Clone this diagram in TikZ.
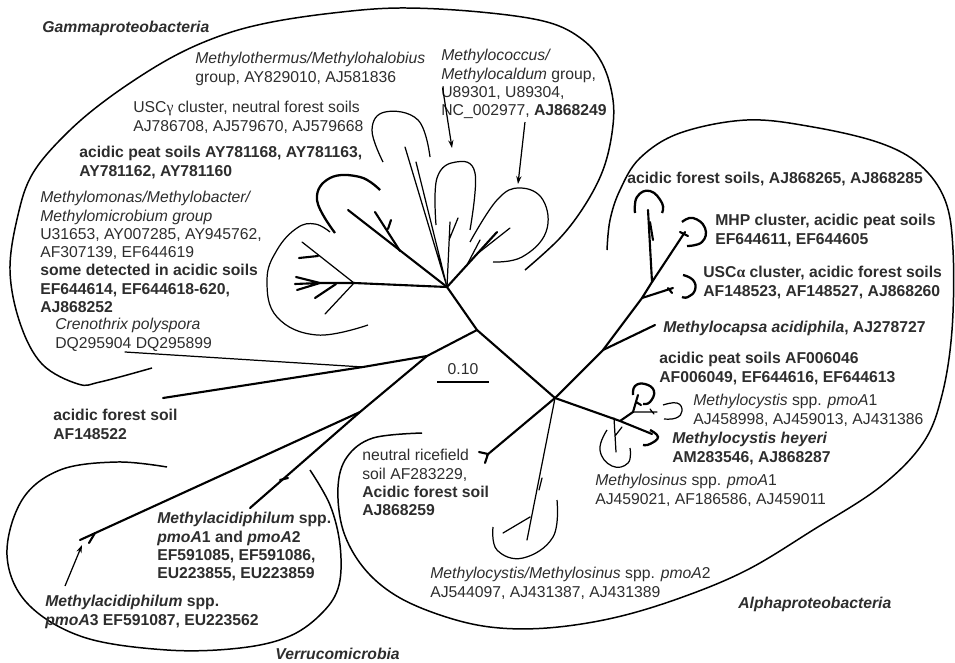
\documentclass[tikz,border=0pt]{standalone}
\usepackage{fontspec}
\setmainfont{Liberation Sans}
\newfontfamily\greekfont{Liberation Serif}
\usetikzlibrary{arrows.meta,calc}
\definecolor{lblgray}{RGB}{45,45,45}

\begin{document}
\begin{tikzpicture}[x=0.02cm,y=-0.02cm,
  branch/.style={line width=1.2pt,line cap=round},
  twig/.style={line width=0.7pt,line cap=round},
  hull/.style={line width=0.85pt},
  loopthin/.style={line width=0.7pt},
  loopbold/.style={line width=1.3pt},
  lbl/.style={anchor=north west,inner sep=0pt,align=left,text=lblgray,font=\fontsize{8.95}{10.4}\selectfont},
  pointer/.style={line width=0.7pt,-{Stealth[length=4.5pt,width=3pt]}}]
\useasboundingbox (0,0) rectangle (955,662);

% inner nodes of the tree
\coordinate (G) at (447,287);
\coordinate (GL) at (354,283);
\coordinate (K1) at (477,330);
\coordinate (K2) at (427,356);
\coordinate (K3) at (363,367);
\coordinate (V) at (360,412);
\coordinate (A) at (555,398);
\coordinate (M1) at (603,350);
\coordinate (M2) at (642,298);
\coordinate (M3) at (652,282);
\coordinate (N0) at (620,421);
\coordinate (N1) at (633,412);

% trunk
\draw[branch] (G) -- (K1) -- (A);
\draw[branch] (K1) -- (K2) -- (K3) -- (163,398);
\draw[twig] (K3) -- (125,352);
\draw[branch] (K2) -- (V) -- (80,540);
\draw[branch] (V) -- (250,508);
\draw[branch] (95,533) -- (89,543) (280,480) -- (288,478);

% gamma subtree
\draw[branch] (G) -- (GL);
\draw[twig] (GL) -- (302,242);
\draw[branch] (318,256) -- (299,258);
\draw[branch] (GL) -- (320,283) -- (296,277) (320,283) -- (295,284) (320,283) -- (297,290);
\draw[branch] (336,284) -- (315,298);
\draw[twig] (GL) -- (325,314);
\draw[branch] (G) -- (348,210);
\draw[branch] (400,251) -- (375,212) (388,229) -- (391,220);
\draw[twig] (G) -- (405,147) (G) -- (416,162);
\draw[twig] (G) -- (450,222) (449,240) -- (458,218);
\draw[branch] (G) -- (497,232);
\draw[twig] (477,254) -- (510,228) (468,263) -- (480,240);

% alpha subtree
\draw[branch] (A) -- (M1) -- (M2) -- (M3) -- (648,210);
\draw[branch] (650,222) -- (653,240);
\draw[branch] (M1) -- (655,325);
\draw[branch] (M2) -- (673,288) (668,288) -- (672,293);
\draw[branch] (M3) -- (685,232) (680,232) -- (688,236);
\draw[branch] (A) -- (N0) -- (652,434);
\draw[branch] (N0) -- (N1) -- (638,395) (636,402) -- (641,405);
\draw[twig] (N1) -- (657,412) (650,409) -- (654,414);
\draw[twig] (614,418) -- (616,452) (615,436) -- (622,427);
\draw[twig] (A) -- (527,540) (530,517) -- (503,533) (542,478) -- (539,490);
\draw[branch] (A) -- (487,455) (479,452) -- (488,454) -- (485,463);

% clusters
\draw[loopthin] plot[smooth,tension=0.7] coordinates {(383,162) (372,130) (385,112) (418,120) (430,157)};
\draw[loopthin] plot[smooth,tension=0.7] coordinates {(436,225) (437,178) (456,162) (475,173) (470,230)};
\draw[loopthin] plot[smooth,tension=0.7] coordinates {(470,242) (497,200) (520,188) (543,200) (546,232) (522,257) (493,262)};
\draw[loopbold] plot[smooth,tension=0.7] coordinates {(335,233) (317,200) (330,178) (360,177) (380,190)};
\draw[loopthin] plot[smooth,tension=0.7] coordinates {(368,325) (317,335) (277,317) (267,280) (277,250) (297,228) (315,224) (330,232)};
\draw[loopbold] plot[smooth,tension=0.8] coordinates {(635,213) (637,197) (650,191) (662,203) (662,213)};
\draw[loopbold] plot[smooth,tension=0.8] coordinates {(682,222) (693,218) (705,228) (702,242) (687,246)};
\draw[loopbold] plot[smooth,tension=0.8] coordinates {(683,275) (693,280) (695,290) (688,297) (682,297)};
\draw[loopbold] plot[smooth,tension=0.8] coordinates {(633,395) (635,386) (645,384) (654,391) (650,402) (643,404)};
\draw[loopthin] plot[smooth,tension=0.8] coordinates {(663,405) (677,403) (682,411) (676,418) (664,419)};
\draw[loopbold] plot[smooth,tension=0.8] coordinates {(650,430) (658,437) (650,444) (643,445)};
\draw[loopthin] plot[smooth,tension=0.8] coordinates {(607,430) (600,450) (612,466) (628,463) (630,448)};
\draw[loopthin] plot[smooth,tension=0.7] coordinates {(557,500) (553,537) (523,558) (497,550) (493,527)};

% group outlines
\draw[hull] plot[smooth,tension=0.6] coordinates {(152,368) (100,382) (78,384) (42,364) (20,323) (10,270) (18,215) (33,173) (67,133) (110,97) (167,60) (217,37) (267,23) (333,13) (400,8) (480,12) (547,22) (583,40) (603,65) (613,100) (612,133) (603,170) (585,205) (560,238) (525,270)};
\draw[hull] plot[smooth,tension=0.6] coordinates {(167,467) (117,462) (60,470) (22,500) (7,555) (27,603) (83,637) (167,650) (240,648) (290,636) (323,612) (339,585) (340,545) (330,505) (310,470)};
\draw[hull] plot[smooth,tension=0.6] coordinates {(422,433) (373,438) (347,457) (338,487) (343,530) (363,567) (395,595) (440,615) (490,627) (547,628) (613,618) (680,598) (747,570) (813,530) (880,487) (923,443) (942,395) (952,330) (953,250) (945,200) (920,165) (880,143) (813,127) (747,120) (680,133) (640,158) (620,190) (610,220) (607,250)};

% scale bar
\draw[line width=0.9pt] (437,382) -- (489,382);
\node[text=lblgray,font=\fontsize{8.95}{10.4}\selectfont] (scale) at (463,369) {0.10};

% labels
\node[lbl] (gammatitle) at (42,21) {\textbf{\textit{Gammaproteobacteria}}};
\node[lbl] (therm) at (195,52) {\textit{Methylothermus/Methylohalobius}\\group, AY829010, AJ581836};
\node[lbl] (cocc) at (441,49) {\textit{Methylococcus/}\\\textit{Methylocaldum} group,\\U89301, U89304,\\NC\_002977, \textbf{AJ868249}};
\node[lbl] (uscg) at (133,101) {USC{\greekfont γ} cluster, neutral forest soils\\AJ786708, AJ579670, AJ579668};
\node[lbl] (gpeat) at (79,146) {\textbf{acidic peat soils AY781168, AY781163,}\\\textbf{AY781162, AY781160}};
\node[lbl] (monas) at (40,191) {\textit{Methylomonas/Methylobacter/}\\\textit{Methylomicrobium group}\\U31653, AY007285, AY945762,\\AF307139, EF644619\\\textbf{some detected in acidic soils}\\\textbf{EF644614, EF644618-620,}\\\textbf{AJ868252}};
\node[lbl] (creno) at (55,318) {\textit{Crenothrix polyspora}\\DQ295904 DQ295899};
\node[lbl] (afs) at (53,409) {\textbf{acidic forest soil}\\\textbf{AF148522}};
\node[lbl] (vpmo) at (157,512) {\textbf{\textit{Methylacidiphilum} spp.}\\\textbf{\textit{pmoA}1 and \textit{pmoA}2}\\\textbf{EF591085, EF591086,}\\\textbf{EU223855, EU223859}};
\node[lbl] (vpmothree) at (45,595) {\textbf{\textit{Methylacidiphilum} spp.}\\\textbf{\textit{pmoA}3 EF591087, EU223562}};
\node[lbl] (verrtitle) at (275,648) {\textbf{\textit{Verrucomicrobia}}};
\node[lbl] (rice) at (362,449) {neutral ricefield\\soil AF283229,\\\textbf{Acidic forest soil}\\\textbf{AJ868259}};
\node[lbl] (aforest) at (627,172) {\textbf{acidic forest soils, AJ868265, AJ868285}};
\node[lbl] (mhp) at (715,214) {\textbf{MHP cluster, acidic peat soils}\\\textbf{EF644611, EF644605}};
\node[lbl] (usca) at (703,266) {\textbf{USC{\greekfont α} cluster, acidic forest soils}\\\textbf{AF148523, AF148527, AJ868260}};
\node[lbl] (capsa) at (663,321) {\textbf{\textit{Methylocapsa acidiphila}, AJ278727}};
\node[lbl] (apeat) at (659,352) {\textbf{acidic peat soils AF006046}\\\textbf{AF006049, EF644616, EF644613}};
\node[lbl] (cystis) at (693,394) {\textit{Methylocystis} spp. \textit{pmoA}1\\AJ458998, AJ459013, AJ431386};
\node[lbl] (heyeri) at (672,432) {\textbf{\textit{Methylocystis heyeri}}\\\textbf{AM283546, AJ868287}};
\node[lbl] (sinus) at (595,474) {\textit{Methylosinus} spp. \textit{pmoA}1\\AJ459021, AF186586, AJ459011};
\node[lbl] (pmoatwo) at (430,567) {\textit{Methylocystis/Methylosinus} spp. \textit{pmoA}2\\AJ544097, AJ431387, AJ431389};
\node[lbl] (alphatitle) at (738,597) {\textbf{\textit{Alphaproteobacteria}}};

% pointers
\coordinate (thermtip) at (452,148);
\coordinate (cocctip) at (518,184);
\coordinate (verrtip) at (82,545);
\draw[pointer] ($(therm.south east)+(17,2)$) -- (thermtip);
\draw[pointer] ($(cocc.south)+(1,3)$) -- (cocctip);
\draw[pointer] ($(vpmothree.north west)+(20,-9)$) -- (verrtip);
\end{tikzpicture}
\end{document}
